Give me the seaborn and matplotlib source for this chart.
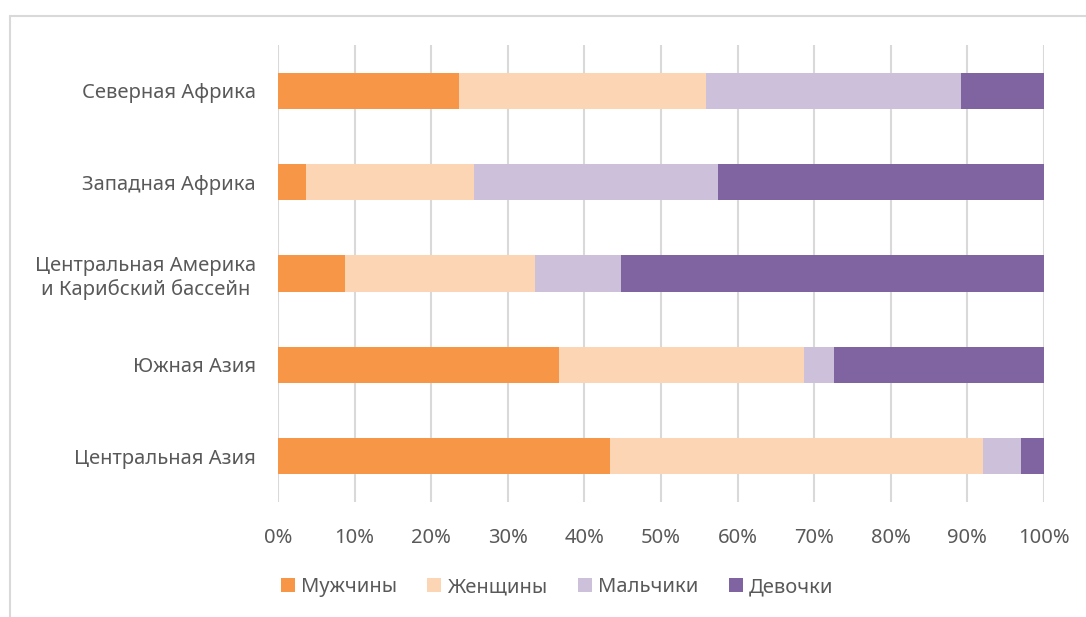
import matplotlib
matplotlib.use("Agg")
import matplotlib.pyplot as plt
import seaborn as sns
import pandas as pd
import numpy as np
from matplotlib.patches import Patch
from matplotlib.lines import Line2D

regions = ["Северная Африка", "Западная Африка",
           "Центральная Америка\nи Карибский бассейн", "Южная Азия", "Центральная Азия"]
series = ["Мужчины", "Женщины", "Мальчики", "Девочки"]
men = [23.6, 3.7, 8.7, 36.7, 43.4]
women = [32.3, 21.9, 24.9, 32.0, 48.7]
boys = [33.3, 31.9, 11.2, 3.9, 4.9]
girls = [10.8, 42.5, 55.2, 27.4, 3.0]
xticks = [0, 10, 20, 30, 40, 50, 60, 70, 80, 90, 100]
xticklabels = [f"{t}%" for t in xticks]
colors = ["#F79646", "#FCD5B5", "#CCC0DA", "#8064A2"]

sns.set_theme(style="white")
plt.rcParams['font.family'] = ['Noto Sans', 'DejaVu Sans']
text_color = "#595959"
fs = 14.5

df = pd.DataFrame({"region": regions, "Мужчины": men, "Женщины": women,
                   "Мальчики": boys, "Девочки": girls})
vals = df[series].to_numpy(dtype=float)
vals = vals / vals.sum(axis=1, keepdims=True) * 100
cum = np.cumsum(vals, axis=1)

fig = plt.figure(figsize=(10.86, 6.17), dpi=100)
ax = fig.add_axes([278 / 1086, 1 - 502 / 617, (1044 - 278) / 1086, (502 - 45) / 617])

for i in range(len(series) - 1, -1, -1):
    d = pd.DataFrame({"region": regions, "value": cum[:, i]})
    sns.barplot(data=d, y="region", x="value", order=regions, color=colors[i],
                width=0.395, ax=ax, saturation=1, zorder=3, edgecolor="none", linewidth=0)

ax.set_xlim(0, 100)
ax.set_ylim(4.5, -0.5)
ax.set_xticks(xticks)
ax.set_xticklabels(xticklabels, fontsize=fs, color=text_color)
ax.tick_params(axis="y", labelsize=fs, labelcolor=text_color, length=0, pad=16)
ax.tick_params(axis="x", length=0, pad=19)
for lbl in ax.get_yticklabels():
    lbl.set_multialignment("center")
ax.set_xlabel("")
ax.set_ylabel("")
ax.grid(axis="x", color="#D9D9D9", linewidth=1.5, zorder=0)
ax.grid(axis="y", visible=False)
for s in ax.spines.values():
    s.set_visible(False)

handles = [Patch(facecolor=c, edgecolor="none", label=s) for c, s in zip(colors, series)]
leg = fig.legend(handles=handles, loc="center", bbox_to_anchor=(0.513, 1 - 587 / 617),
                 ncol=4, frameon=False, fontsize=fs, handlelength=0.7, handleheight=0.7,
                 handletextpad=0.3, columnspacing=1.5)
for t in leg.get_texts():
    t.set_color(text_color)

# outer chart frame (only top and left edges visible in the crop)
fig.add_artist(Line2D([10 / 1086, 1], [1 - 16 / 617, 1 - 16 / 617], transform=fig.transFigure,
                      color="#D9D9D9", linewidth=1.5))
fig.add_artist(Line2D([10 / 1086, 10 / 1086], [0, 1 - 16 / 617], transform=fig.transFigure,
                      color="#D9D9D9", linewidth=1.5))

fig.savefig("out.png", dpi=100, facecolor="white")
